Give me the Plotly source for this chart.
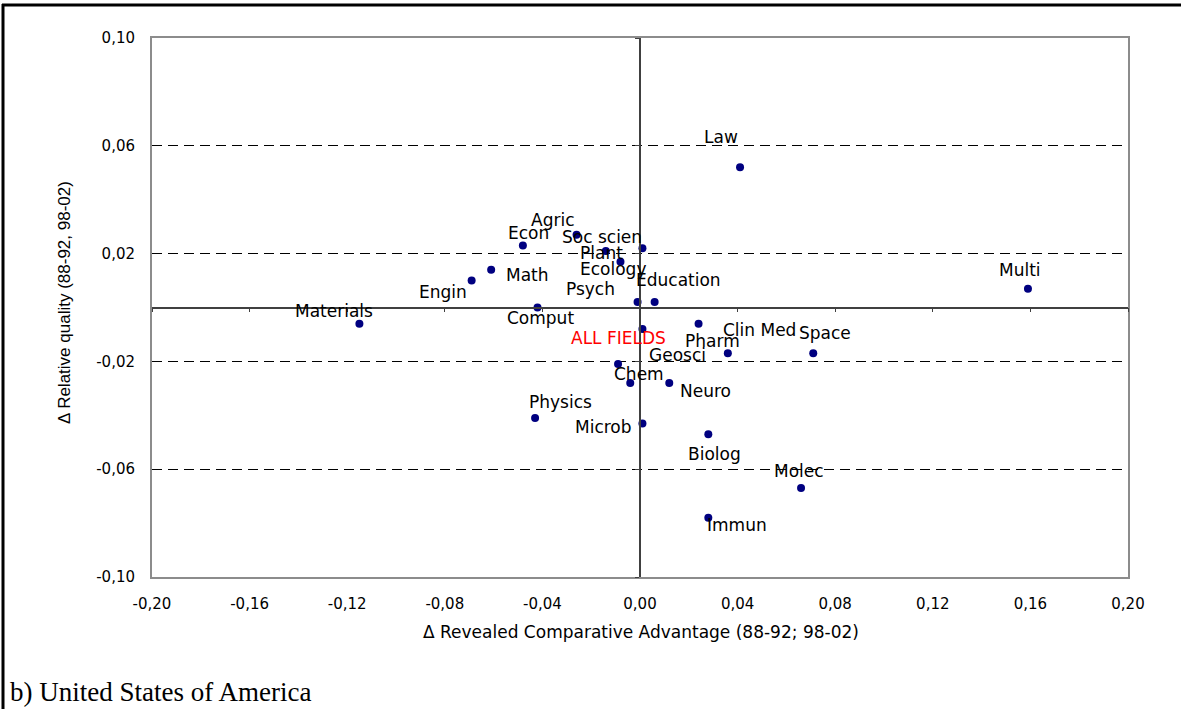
import plotly.graph_objects as go

# ---- data ----
fields = ["Law", "Multi", "Agric", "Econ", "Soc scien", "Plant", "Ecology", "Education",
          "Psych", "Math", "Engin", "Materials", "Comput", "ALL FIELDS", "Clin Med",
          "Pharm", "Space", "Geosci", "Chem", "Neuro", "Physics", "Microb", "Biolog",
          "Molec", "Immun"]
d_rca = [0.041, 0.159, -0.026, -0.048, 0.001, -0.014, -0.008, 0.006,
         -0.001, -0.061, -0.069, -0.115, -0.042, 0.001, 0.024,
         0.036, 0.071, -0.009, -0.004, 0.012, -0.043, 0.001, 0.028,
         0.066, 0.028]
d_quality = [0.052, 0.007, 0.027, 0.023, 0.022, 0.021, 0.017, 0.002,
             0.002, 0.014, 0.010, -0.006, 0.000, -0.008, -0.006,
             -0.017, -0.017, -0.021, -0.028, -0.028, -0.041, -0.043, -0.047,
             -0.067, -0.078]
x_ticks = [-0.20, -0.16, -0.12, -0.08, -0.04, 0.00, 0.04, 0.08, 0.12, 0.16, 0.20]
x_tick_text = ["-0,20", "-0,16", "-0,12", "-0,08", "-0,04", "0,00", "0,04", "0,08", "0,12", "0,16", "0,20"]
y_ticks = [-0.10, -0.06, -0.02, 0.02, 0.06, 0.10]
y_tick_text = ["-0,10", "-0,06", "-0,02", "0,02", "0,06", "0,10"]

# ---- label offsets in pixels (style only) ----
label_shift = {
    "Law": (-19, 30), "Multi": (-8, 19), "Agric": (-24, 15), "Econ": (6, 13),
    "Soc scien": (-40, 11), "Plant": (-4, -2), "Ecology": (-7, -7), "Education": (24, 22),
    "Psych": (-47, 13), "Math": (36, -5), "Engin": (-29, -11), "Materials": (-25, 13),
    "Comput": (3, -10), "ALL FIELDS": (-24, -9), "Clin Med": (61, -6), "Pharm": (-15, 12),
    "Space": (12, 20), "Geosci": (59, 9), "Chem": (9, 9), "Neuro": (36, -8),
    "Physics": (25, 16), "Microb": (-39, -4), "Biolog": (6, -20), "Molec": (-2, 17),
    "Immun": (29, -7),
}

W, H = 1181, 709
ML, MR, MT, MB = 152, 53, 38, 132
PW, PH = W - ML - MR, H - MT - MB

fig = go.Figure()
fig.add_trace(go.Scatter(x=d_rca, y=d_quality, mode="markers",
                         marker=dict(color="#000080", size=8), hoverinfo="text",
                         text=fields, showlegend=False))
# invisible traces to activate the crossing axes
fig.add_trace(go.Scatter(x=[0], y=[0], xaxis="x2", yaxis="y", mode="markers",
                         marker=dict(opacity=0), showlegend=False, hoverinfo="skip"))
fig.add_trace(go.Scatter(x=[0], y=[0], xaxis="x", yaxis="y2", mode="markers",
                         marker=dict(opacity=0), showlegend=False, hoverinfo="skip"))

for name, xv, yv in zip(fields, d_rca, d_quality):
    dx, dy = label_shift[name]
    fig.add_annotation(x=xv, y=yv, text=name, showarrow=False, xshift=dx, yshift=dy,
                       font=dict(family="DejaVu Sans", size=17,
                                 color="#FF0000" if name == "ALL FIELDS" else "#000000"))

fig.update_layout(
    width=W, height=H,
    margin=dict(l=ML, r=MR, t=MT, b=MB),
    paper_bgcolor="white", plot_bgcolor="white",
    showlegend=False,
    xaxis=dict(range=[-0.20, 0.20], tickvals=x_ticks, ticktext=x_tick_text,
               showgrid=False, zeroline=False, showline=True, mirror=True,
               linecolor="#8c8c8c", linewidth=2, ticks="", ticklabelstandoff=12,
               tickfont=dict(family="DejaVu Sans", size=15, color="#000000")),
    yaxis=dict(range=[-0.10, 0.10], tickvals=y_ticks, ticktext=y_tick_text,
               showgrid=True, gridcolor="#000000", gridwidth=1, griddash="10px,6px",
               zeroline=False, showline=True, mirror=True,
               linecolor="#8c8c8c", linewidth=2, ticks="", ticklabelstandoff=12,
               tickfont=dict(family="DejaVu Sans", size=15, color="#000000")),
    xaxis2=dict(range=[-0.20, 0.20], tickvals=x_ticks, overlaying="x", anchor="free",
                position=0.5, side="bottom", showline=True, linecolor="#404040", linewidth=1.5,
                ticks="outside", ticklen=4, tickcolor="#404040", showticklabels=False,
                showgrid=False, zeroline=False),
    yaxis2=dict(range=[-0.10, 0.10], tickvals=y_ticks, overlaying="y", anchor="free",
                position=0.5, side="left", showline=True, linecolor="#404040", linewidth=1.5,
                ticks="outside", ticklen=4, tickcolor="#404040", showticklabels=False,
                showgrid=False, zeroline=False),
)

# axis titles
fig.add_annotation(xref="paper", yref="paper", x=(641 - ML) / PW, y=-(632 - MT - PH) / PH,
                   text="Δ Revealed Comparative Advantage (88-92; 98-02)", showarrow=False,
                   font=dict(family="DejaVu Sans", size=17, color="#000000"),
                   xanchor="center", yanchor="middle")
fig.add_annotation(xref="paper", yref="paper", x=(64 - ML) / PW, y=1 - (303 - MT) / PH,
                   text="Δ Relative quality (88-92, 98-02)", showarrow=False, textangle=-90,
                   font=dict(family="Liberation Sans", size=17, color="#000000"),
                   xanchor="center", yanchor="middle")
# caption
fig.add_annotation(xref="paper", yref="paper", x=(8 - ML) / PW, y=1 - (692 - MT) / PH,
                   text="b) United States of America", showarrow=False,
                   font=dict(family="Liberation Serif", size=27, color="#000000"),
                   xanchor="left", yanchor="middle")

# outer frame (top and left edges)
def px_x(p):
    return (p - ML) / PW

def px_y(p):
    return 1 - (p - MT) / PH

fig.add_shape(type="line", xref="paper", yref="paper", x0=px_x(2), x1=px_x(W), y0=px_y(5), y1=px_y(5),
              line=dict(color="#000000", width=3))
fig.add_shape(type="line", xref="paper", yref="paper", x0=px_x(3), x1=px_x(3), y0=px_y(4), y1=px_y(H),
              line=dict(color="#000000", width=3))

fig.write_html("out.html", config={"displayModeBar": False},
               post_script="document.body.style.margin='0';document.body.style.overflow='hidden';")
